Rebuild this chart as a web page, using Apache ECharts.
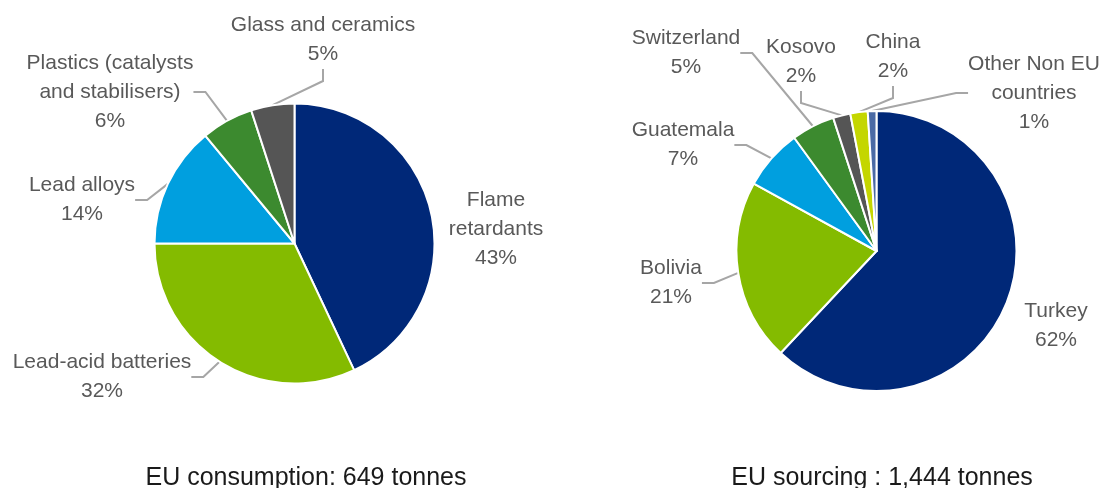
<!DOCTYPE html>
<html>
<head>
<meta charset="utf-8">
<title>Antimony: EU consumption and sourcing</title>
<script src="https://cdn.jsdelivr.net/npm/echarts@6/dist/echarts.min.js"></script>
<style>
  html, body { margin: 0; padding: 0; background: #ffffff; }
  #chart { width: 1106px; height: 488px; }
</style>
</head>
<body>
<div id="chart"></div>
<script>
// data (shares in %)
const useNames = ['Flame\nretardants', 'Lead-acid batteries', 'Lead alloys', 'Plastics (catalysts\nand stabilisers)', 'Glass and ceramics'];
const useShares = [43, 32, 14, 6, 5];
const sourceNames = ['Turkey', 'Bolivia', 'Guatemala', 'Switzerland', 'Kosovo', 'China', 'Other Non EU\ncountries'];
const sourceShares = [62, 21, 7, 5, 2, 2, 1];
const chartTitles = ['EU consumption: 649 tonnes', 'EU sourcing : 1,444 tonnes'];

// styling
const useColors = ['#002878', '#84BB00', '#009FDF', '#3C8A2F', '#555555'];
const sourceColors = ['#002878', '#84BB00', '#009FDF', '#3C8A2F', '#555555', '#C4D600', '#4A6AA5'];

// where each label block is centred (layout only)
const useLabelPos = [[496, 229], [102, 377], [82, 200], [110, 92], [323, 40]];
const sourceLabelPos = [[1056, 326], [671, 283], [683, 145], [686, 53], [801, 62], [893, 57], [1034, 93]];

function pieSeries(names, values, colors, center, labelPos) {
  return {
    type: 'pie',
    center: center,
    radius: 140,
    startAngle: 90,
    clockwise: true,
    avoidLabelOverlap: false,
    animation: false,
    itemStyle: { borderColor: '#ffffff', borderWidth: 2 },
    label: {
      show: true,
      position: 'outside',
      color: '#595959',
      fontFamily: 'Liberation Sans',
      fontSize: 21,
      lineHeight: 29,
      formatter: p => p.name + '\n' + p.value + '%'
    },
    labelLine: {
      show: true,
      length: 10,
      length2: 12,
      lineStyle: { color: '#A6A6A6', width: 2 }
    },
    labelLayout: p => ({
      x: labelPos[p.dataIndex][0],
      y: labelPos[p.dataIndex][1],
      align: 'center',
      verticalAlign: 'middle'
    }),
    data: names.map((n, i) => ({
      name: n,
      value: values[i],
      itemStyle: { color: colors[i] },
      // the biggest slice carries its label right next to it, no leader line
      labelLine: { show: i !== 0 }
    }))
  };
}

let myChart = echarts.init(document.getElementById('chart'));
let option = {
  backgroundColor: '#ffffff',
  title: chartTitles.map((t, i) => ({
    text: t,
    left: [306, 882][i],
    top: 466,
    textAlign: 'center',
    padding: 0,
    textStyle: { fontFamily: 'Liberation Sans', fontSize: 25, fontWeight: 'normal', color: '#1a1a1a' }
  })),
  series: [
    pieSeries(useNames, useShares, useColors, [294.5, 243.5], useLabelPos),
    pieSeries(sourceNames, sourceShares, sourceColors, [876.5, 251], sourceLabelPos)
  ]
};
myChart.setOption(option);
window.addEventListener('resize', () => {
  myChart.resize();
});
</script>
</body>
</html>
